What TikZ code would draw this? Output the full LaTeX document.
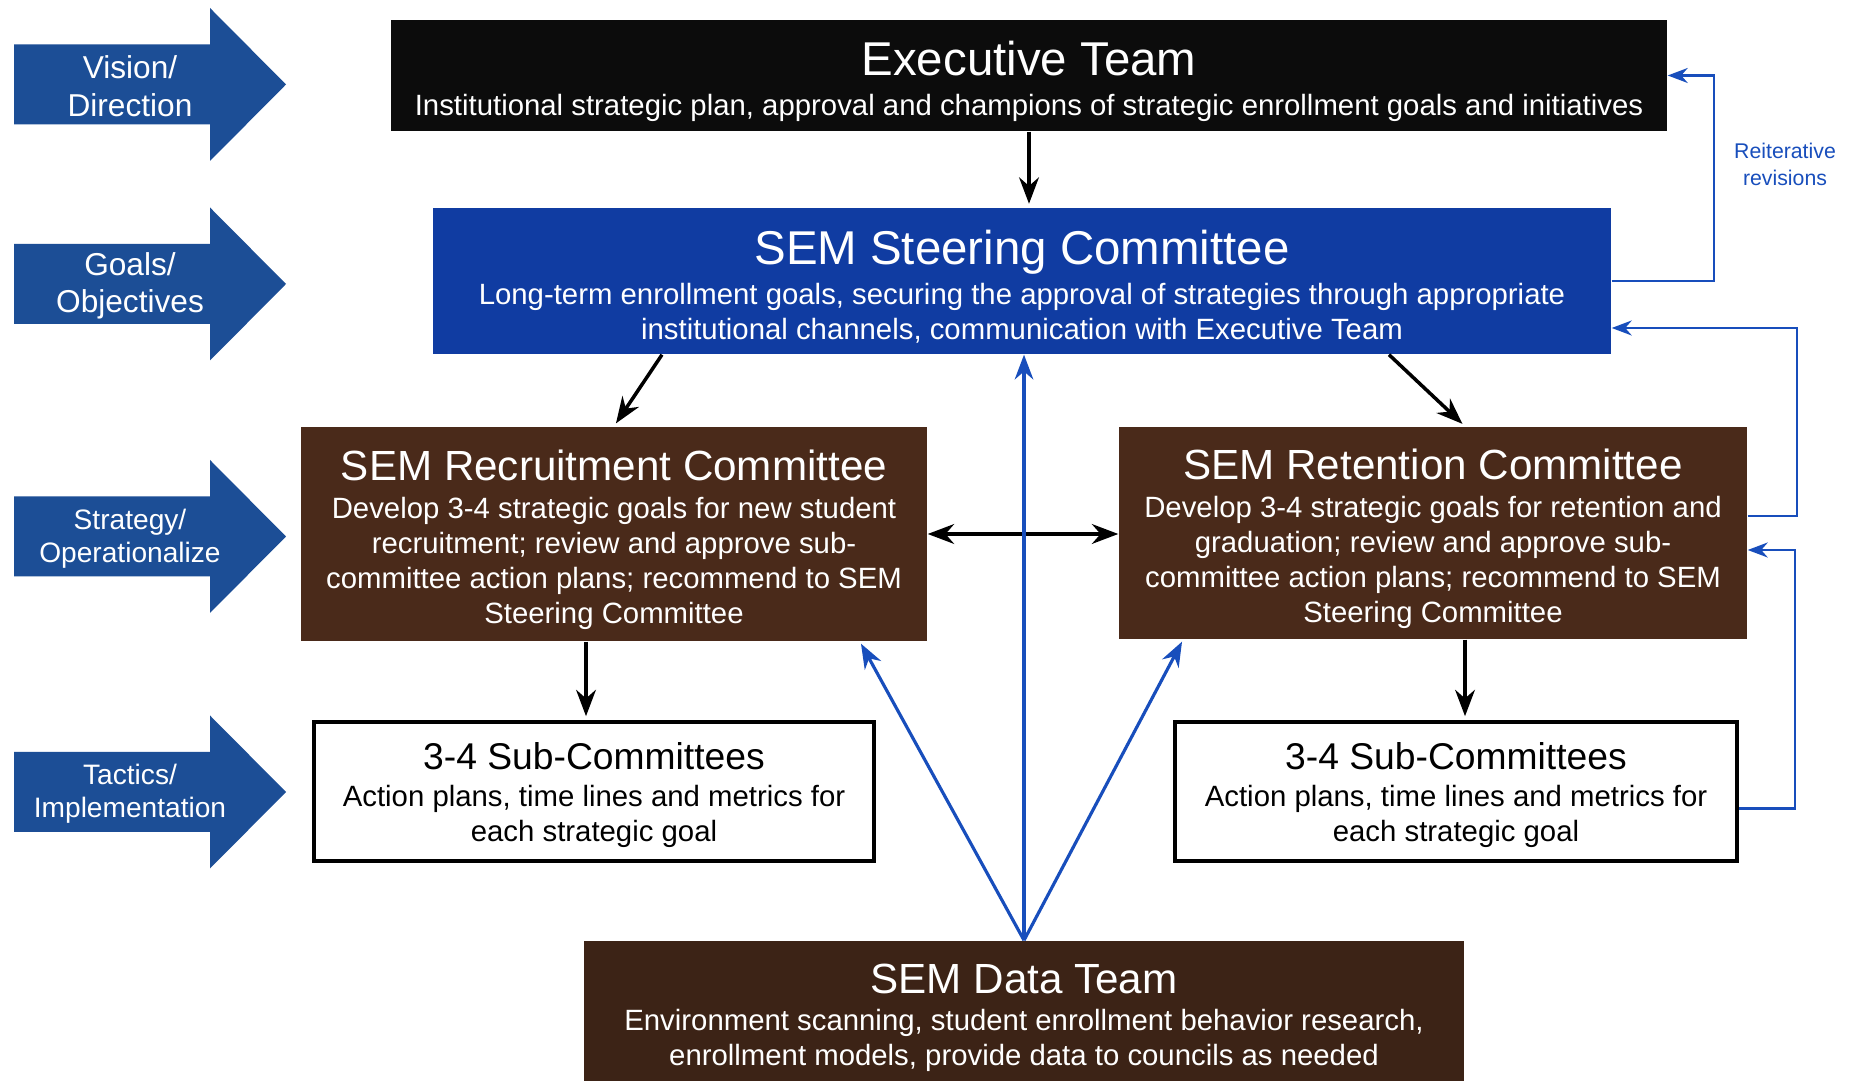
\documentclass[tikz,border=0pt]{standalone}
\usepackage{fontspec}
\setmainfont{Liberation Sans}
\usetikzlibrary{arrows.meta,positioning,calc}

\definecolor{exblack}{RGB}{12,12,12}
\definecolor{stblue}{RGB}{16,60,162}
\definecolor{cmbrown}{RGB}{74,42,26}
\definecolor{dtbrown}{RGB}{60,35,22}
\definecolor{lvlblue}{RGB}{28,78,150}
\definecolor{fbblue}{RGB}{24,78,188}

% title fonts carry a strut so the text sits a little low in its box
\newcommand{\hdl}{\fontsize{13.5}{16}\selectfont\rule{0pt}{13.1pt}}
\newcommand{\ttl}{\fontsize{12}{14}\selectfont\rule{0pt}{12.2pt}}
\newcommand{\sml}{\fontsize{10.6}{12.5}\selectfont\rule{0pt}{9.7pt}}
\newcommand{\bdy}{\fontsize{8.35}{10}\selectfont}

\begin{document}
\begin{tikzpicture}[>=Stealth]
\tikzstyle{box}=[inner sep=0pt,align=center,text=white,font=\bdy]
\tikzstyle{sub}=[draw=black,line width=1.3pt,fill=white,inner sep=0pt,align=center,font=\bdy]
\tikzstyle{lnk}=[->,line width=1pt,shorten >=1pt]
\tikzstyle{fb}=[->,draw=fbblue,line width=0.9pt]
\tikzstyle{rev}=[->,draw=fbblue,line width=0.6pt]
\useasboundingbox (0,0) rectangle (18.51,-10.81);
\fill[white] (0,0) rectangle (18.51,-10.81);

% level arrows on the left
\foreach \y/\txt/\fs/\sk [count=\i] in {0.845/{Vision/\\Direction}/9/10.7, 2.84/{Goals/\\Objectives}/9/10.7,
    5.365/{Strategy/\\Operationalize}/8/9.4, 7.92/{Tactics/\\Implementation}/8/9.4}{
  \fill[lvlblue] (0.14,-\y+0.40) -- (2.10,-\y+0.40) -- (2.10,-\y+0.765) -- (2.86,-\y)
    -- (2.10,-\y-0.765) -- (2.10,-\y-0.40) -- (0.14,-\y-0.40) -- cycle;
  \node[text=white,align=center,font=\fontsize{\fs}{\sk}\selectfont] (lv\i) at (1.30,-\y-0.02) {\txt};
}

\node[box,fill=exblack,minimum width=12.76cm,minimum height=1.11cm] (ex) at (10.29,-0.755)
  {{\hdl Executive Team}\\[1.3pt]
   Institutional strategic plan, approval and champions of strategic enrollment goals and initiatives};
\node[box,fill=stblue,minimum width=11.78cm,minimum height=1.46cm] (st) at (10.22,-2.81)
  {{\hdl SEM Steering Committee}\\[1.3pt]
   Long-term enrollment goals, securing the approval of strategies through appropriate\\
   institutional channels, communication with Executive Team};
\node[box,fill=cmbrown,minimum width=6.26cm,minimum height=2.14cm] (rc) at (6.14,-5.34)
  {{\ttl SEM Recruitment Committee}\\[0.7pt]
   Develop 3-4 strategic goals for new student\\
   recruitment; review and approve sub-\\
   committee action plans; recommend to SEM\\
   Steering Committee};
\node[box,fill=cmbrown,minimum width=6.28cm,minimum height=2.12cm] (rt) at (14.33,-5.33)
  {{\ttl SEM Retention Committee}\\[0.7pt]
   Develop 3-4 strategic goals for retention and\\
   graduation; review and approve sub-\\
   committee action plans; recommend to SEM\\
   Steering Committee};
\node[sub,minimum width=5.60cm,minimum height=1.39cm] (sl) at (5.94,-7.915)
  {{\sml 3-4 Sub-Committees}\\[0.7pt]
   Action plans, time lines and metrics for\\
   each strategic goal};
\node[sub,minimum width=5.62cm,minimum height=1.39cm] (sr) at (14.56,-7.915)
  {{\sml 3-4 Sub-Committees}\\[0.7pt]
   Action plans, time lines and metrics for\\
   each strategic goal};
\node[box,fill=dtbrown,minimum width=8.80cm,minimum height=1.40cm] (dt) at (10.24,-10.11)
  {{\ttl SEM Data Team}\\[0.7pt]
   Environment scanning, student enrollment behavior research,\\
   enrollment models, provide data to councils as needed};

% chain of command
\draw[lnk] (ex.south) -- (ex.south |- st.north);
\draw[lnk] ([xshift=-3.6cm]st.south) -- (rc.north);
\draw[lnk] ([xshift=3.67cm]st.south) -- ([xshift=0.32cm]rt.north);
\draw[<->,line width=1pt] (rc.east) -- (rc.east -| rt.west);
\draw[lnk] ([xshift=-0.08cm]sl.north |- rc.south) -- ([xshift=-0.08cm]sl.north);
\draw[lnk] ([xshift=0.32cm]rt.south) -- ([xshift=0.32cm]rt.south |- sr.north);

% data support
\draw[fb] (dt.north) -- (dt.north |- st.south);
\draw[fb] (dt.north) -- ([xshift=2.47cm,yshift=-0.02cm]rc.south);
\draw[fb] (dt.north) -- ([xshift=-2.51cm,yshift=-0.02cm]rt.south);

% feedback loops
\draw[rev] (st.east) -- ++(1.02,0) |- (ex.east);
\draw[rev] ([yshift=0.17cm]rt.east) -- ++(0.49,0) |- ([yshift=-0.47cm]st.east);
\draw[rev] ([yshift=-0.17cm]sr.east) -- ++(0.56,0) |- ([yshift=-0.17cm]rt.east);
\node[text=fbblue,align=center,font=\fontsize{6.05}{7.7}\selectfont] (rv) at (17.85,-1.64)
  {Reiterative\\revisions};
\end{tikzpicture}
\end{document}
